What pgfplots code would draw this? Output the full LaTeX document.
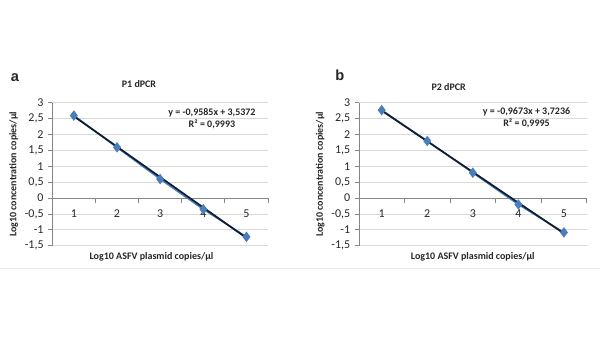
\documentclass[border=0pt]{standalone}
\usepackage{pgfplots}
\pgfplotsset{compat=1.18}
\usepackage{fontspec}
\setmainfont{Carlito}
\newfontfamily\arialfont{Liberation Sans}
\definecolor{gridgray}{HTML}{D9D9D9}
\definecolor{axgray}{HTML}{868686}
\definecolor{ptblue}{HTML}{4A7EBB}
\definecolor{trend}{HTML}{0F1E30}
\definecolor{txt}{HTML}{262626}
\pgfplotsset{
  excel/.style={
    scale only axis,
    width=162pt, height=107.25pt,
    xmin=0.5, xmax=5.5, ymin=-1.5, ymax=3,
    axis x line=middle, axis y line=left,
    axis line style={-, axgray, line width=0.6pt},
    xtick={1,2,3,4,5},
    minor xtick={1.5,2.5,3.5,4.5,5.5},
    major x tick style={draw=none},
    minor x tick style={axgray, line width=0.6pt},
    minor tick length=4pt,
    ytick={-1.5,-1,-0.5,0,0.5,1,1.5,2,2.5,3},
    y tick style={axgray, line width=0.6pt},
    major tick length=3pt,
    tick align=outside,
    ymajorgrids,
    major grid style={gridgray, line width=0.6pt},
    /pgf/number format/use comma,
    /pgf/number format/assume math mode=true,
    ticklabel style={font=\fontsize{9}{10}\selectfont, text=txt},
    xticklabel style={yshift=-2pt},
    yticklabel style={/pgf/number format/fixed, /pgf/number format/precision=1},
    every axis y label/.style={at={(rel axis cs:0,0.5)}, xshift=-29pt, rotate=90, anchor=center,
      font=\bfseries\fontsize{7.5}{8}\selectfont, text=txt},
    clip=false,
  }
}
\begin{document}
\begin{tikzpicture}
\path (0,0) rectangle (450pt,253.5pt);
\draw[gridgray!60, line width=0.5pt] (0pt,52pt) -- (450pt,52pt);
% panel a
\begin{axis}[excel, at={(39pt,69pt)}, anchor=south west,
  ylabel={Log10 concentration copies/µl},
  xlabel={Log10 ASFV plasmid copies/µl},
  every axis x label/.style={at={(rel axis cs:0.46,0)}, anchor=north, yshift=-1.5pt,
    font=\bfseries\fontsize{7.5}{8}\selectfont, text=txt},
]
\addplot[ptblue, line width=1.2pt, mark=diamond*, mark size=3pt, mark options={fill=ptblue, draw=ptblue}]
  coordinates {(1,2.60) (2,1.60) (3,0.60) (4,-0.35) (5,-1.22)};
\addplot[trend, line width=1.3pt] coordinates {(1,2.5787) (5,-1.2553)};
\node[font=\bfseries\fontsize{7.5}{9}\selectfont, text=txt, align=center] at (axis cs:4.2,2.51) {y = -0,9585x + 3,5372\\R² = 0,9993};
\node[font=\bfseries\fontsize{7.5}{8}\selectfont, text=txt] at (axis cs:2.51,3.6) {P1 dPCR};
\end{axis}
\node[font=\arialfont\bfseries\fontsize{11}{12}\selectfont, text=txt] at (11pt,195pt) {a};
% panel b
\begin{axis}[excel, at={(269.25pt,69pt)}, anchor=south west, width=171pt,
  ylabel={Log10 concentration copies/µl},
  xlabel={Log10 ASFV plasmid copies/µl},
  every axis x label/.style={at={(rel axis cs:0.5,0)}, anchor=north, yshift=-1.5pt,
    font=\bfseries\fontsize{7.5}{8}\selectfont, text=txt},
]
\addplot[ptblue, line width=1.2pt, mark=diamond*, mark size=3pt, mark options={fill=ptblue, draw=ptblue}]
  coordinates {(1,2.77) (2,1.80) (3,0.80) (4,-0.20) (5,-1.08)};
\addplot[trend, line width=1.3pt] coordinates {(1,2.7563) (5,-1.1129)};
\node[font=\bfseries\fontsize{7.5}{9}\selectfont, text=txt, align=center] at (axis cs:4.18,2.53) {y = -0,9673x + 3,7236\\R² = 0,9995};
\node[font=\bfseries\fontsize{7.5}{8}\selectfont, text=txt] at (axis cs:2.47,3.5) {P2 dPCR};
\end{axis}
\node[font=\arialfont\bfseries\fontsize{11}{12}\selectfont, text=txt] at (255pt,197pt) {b};
\end{tikzpicture}
\end{document}
